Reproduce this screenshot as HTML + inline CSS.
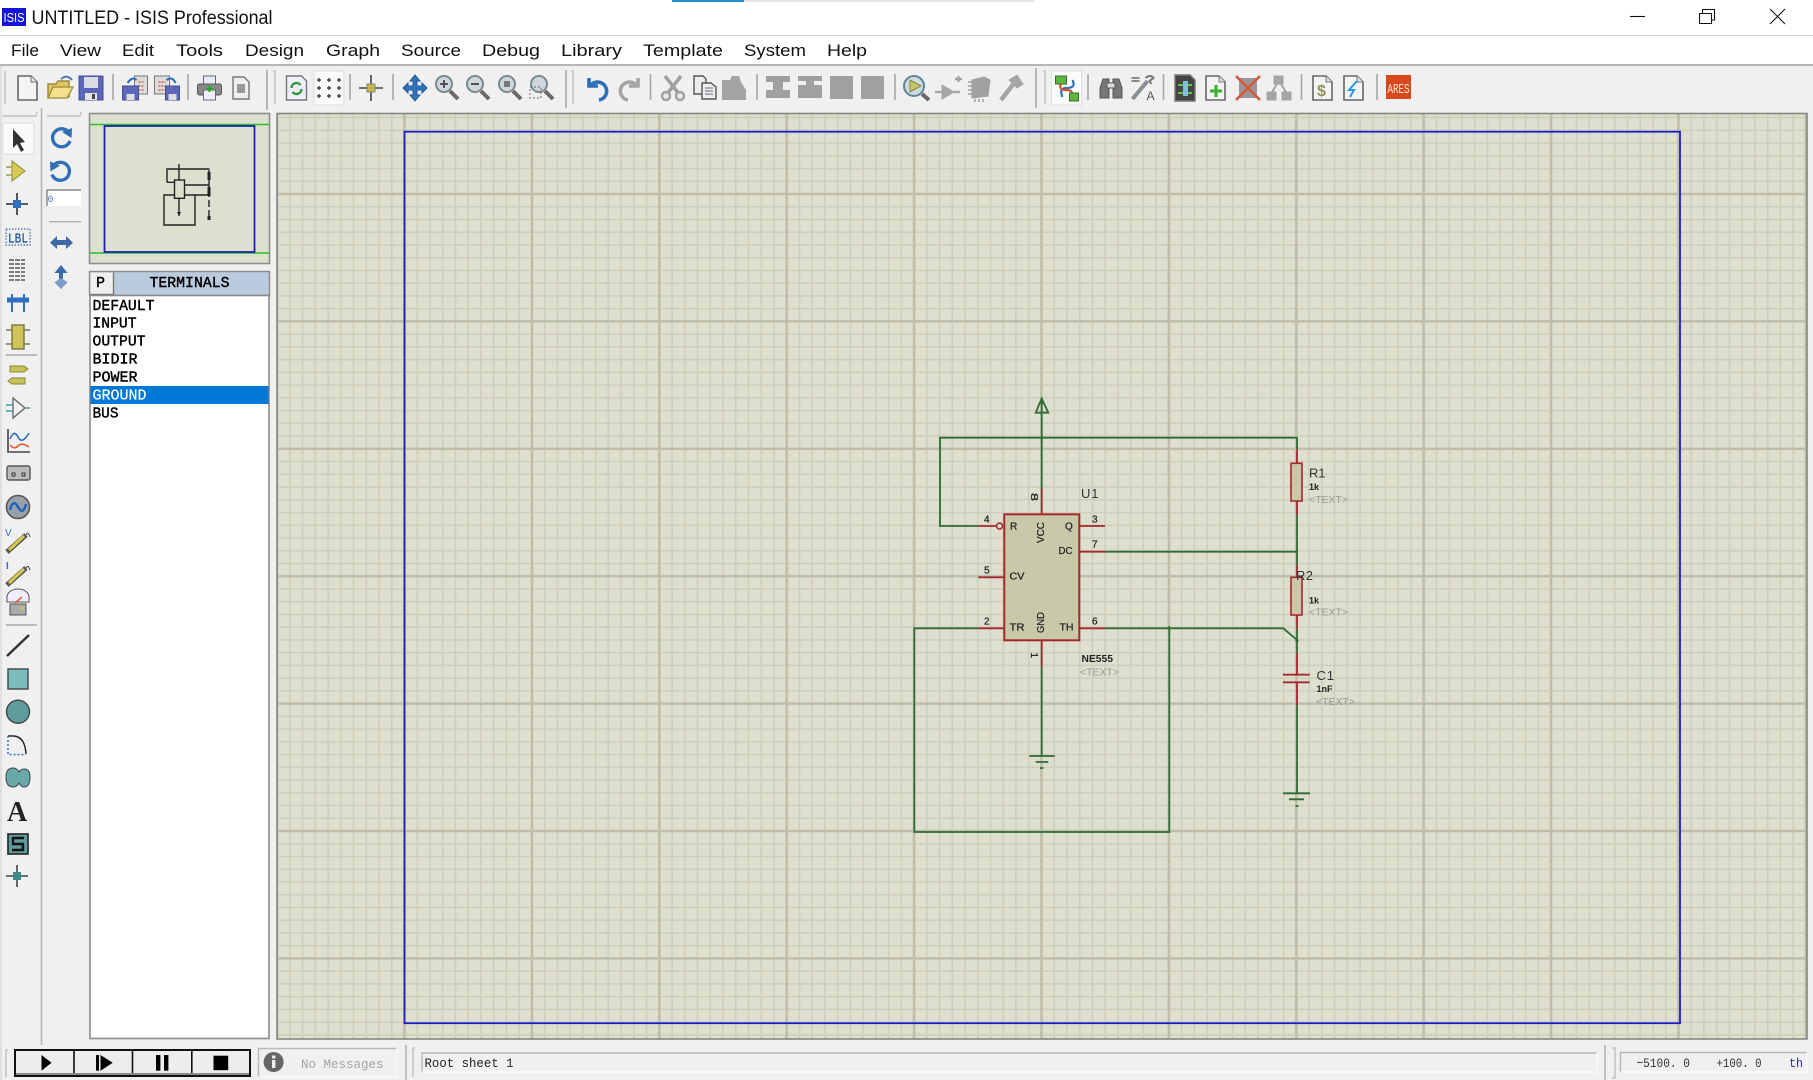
<!DOCTYPE html>
<html><head><meta charset="utf-8"><title>UNTITLED - ISIS Professional</title>
<style>
html,body{margin:0;padding:0;background:#f0f0f0;width:1813px;height:1080px;overflow:hidden}
svg{display:block;filter:blur(.35px)}
text{font-family:"Liberation Sans",sans-serif}
.m{font-family:"Liberation Mono",monospace}
.menu{font-size:17px;fill:#111}
.list{font-family:"Liberation Mono",monospace;font-size:15px;fill:#000;stroke:#000;stroke-width:.4}
.pin{font-family:"Liberation Mono",monospace;font-size:10px;fill:#222;stroke:#222;stroke-width:.25}
.grn{stroke:#2f6b35;stroke-width:1.8;fill:none}
.red{stroke:#a32a2a;stroke-width:1.8;fill:none}
.tag{font-size:10px;fill:#9a9a98}
.sep{stroke:#a8a8a8;stroke-width:1.6}
.grip{fill:none;stroke:#c0c0c0;stroke-width:1.4}
</style></head><body>
<svg width="1813" height="1080" viewBox="0 0 1813 1080" xmlns="http://www.w3.org/2000/svg">
<defs>
<pattern id="g" patternUnits="userSpaceOnUse" x="398.13" y="187.63" width="127.4" height="127.4">
<path d="M19.11 0V127.4M31.85 0V127.4M44.59 0V127.4M57.33 0V127.4M70.07 0V127.4M82.81 0V127.4M95.55 0V127.4M108.29 0V127.4M121.03 0V127.4M0 19.11H127.4M0 31.85H127.4M0 44.59H127.4M0 57.33H127.4M0 70.07H127.4M0 82.81H127.4M0 95.55H127.4M0 108.29H127.4M0 121.03H127.4" stroke="#cdcdba" stroke-width="1.6" fill="none"/>
<path d="M6.37 0V127.4M0 6.37H127.4" stroke="#bdbdaa" stroke-width="2.6" fill="none"/>
</pattern>
<g id="doc"><path d="M-9-12H4L10-6V12H-9Z" fill="#f4f4f4" stroke="#666" stroke-width="1.6"/><path d="M4-12V-6H10" fill="#ddd" stroke="#777"/></g>
<g id="mag"><circle cx="-3" cy="-4" r="8" fill="#cfd6dc" stroke="#7a8a92" stroke-width="2"/><path d="M3 3L11 11" stroke="#6a6a6a" stroke-width="4"/></g>
</defs>

<!-- title bar -->
<rect width="1813" height="35" fill="#fff"/>
<rect x="672" y="0" width="72" height="2" fill="#2a90cc"/><rect x="744" y="0" width="290" height="2" fill="#e4e4e4"/>
<rect x="2" y="8" width="24" height="18" fill="#1515d8"/>
<text x="3.5" y="22" font-size="13" fill="#fff" textLength="21" lengthAdjust="spacingAndGlyphs">ISIS</text>
<text x="31.5" y="24" font-size="19" fill="#111" textLength="241" lengthAdjust="spacingAndGlyphs">UNTITLED - ISIS Professional</text>
<path d="M1630 16.5H1645" stroke="#111" stroke-width="1.1"/>
<path d="M1699.5 13.5H1711.5V23.5H1699.5ZM1702.5 13V9.5H1714.5V20H1711.5" fill="none" stroke="#111" stroke-width="1.1"/>
<path d="M1770 9L1785 24M1785 9L1770 24" stroke="#111" stroke-width="1.1"/>
<rect y="35" width="1813" height="1" fill="#cfcfcf"/>

<!-- menu -->
<rect y="36" width="1813" height="29" fill="#fff"/>
<rect y="64" width="1813" height="2" fill="#b5b5b5"/>
<g class="menu">
<text x="11" y="56" textLength="28" lengthAdjust="spacingAndGlyphs">File</text>
<text x="60" y="56" textLength="41" lengthAdjust="spacingAndGlyphs">View</text>
<text x="122" y="56" textLength="32" lengthAdjust="spacingAndGlyphs">Edit</text>
<text x="176" y="56" textLength="47" lengthAdjust="spacingAndGlyphs">Tools</text>
<text x="245" y="56" textLength="59" lengthAdjust="spacingAndGlyphs">Design</text>
<text x="326" y="56" textLength="54" lengthAdjust="spacingAndGlyphs">Graph</text>
<text x="401" y="56" textLength="60" lengthAdjust="spacingAndGlyphs">Source</text>
<text x="482" y="56" textLength="58" lengthAdjust="spacingAndGlyphs">Debug</text>
<text x="561" y="56" textLength="61" lengthAdjust="spacingAndGlyphs">Library</text>
<text x="643" y="56" textLength="80" lengthAdjust="spacingAndGlyphs">Template</text>
<text x="744" y="56" textLength="62" lengthAdjust="spacingAndGlyphs">System</text>
<text x="827" y="56" textLength="40" lengthAdjust="spacingAndGlyphs">Help</text>
</g>

<!-- toolbar grips and separators -->
<g class="grip">
<path d="M5 71V104"/><path d="M273 71H275V104"/><path d="M571 71H573V104"/><path d="M1043 71H1045V104"/>
</g>
<g class="sep">
<path d="M113 74V100M188 74V100M267 70V110M350 74V100M393 74V100M566 70V108M650.5 74V100M757 74V100M895 74V100M1036 68V108M1088 74V100M1163.5 74V100M1301.5 74V100M1377 74V100"/>
</g>

<!-- toolbar icons -->
<use href="#doc" transform="translate(27,88)"/>
<g transform="translate(60,88)"><path d="M-12-4H-4L-2-7H9V9H-12Z" fill="#e2c563" stroke="#9a8a3c" stroke-width="1.4"/><path d="M-12 10L-7-1H13L7 10Z" fill="#f4e08a" stroke="#9a8a3c" stroke-width="1.3"/><path d="M1-9Q7-14 12-8" stroke="#4a7fb8" stroke-width="2" fill="none"/></g>
<g transform="translate(91,88)"><rect x="-12" y="-12" width="24" height="24" fill="#5d66b8" stroke="#444c98"/><rect x="-7" y="-11" width="14" height="11" fill="#d8dce4"/><rect x="-6" y="5" width="12" height="7" fill="#e4e4e4"/><rect x="1" y="6" width="3" height="5" fill="#444"/></g>
<g transform="translate(134.5,88)"><rect x="0" y="-12" width="13" height="18" fill="#dcdcdc" stroke="#777"/><path d="M4-6h6M4-2h6M4 2h6" stroke="#d06a50" stroke-width="1.6" stroke-dasharray="2 1"/><rect x="-12" y="-2" width="16" height="14" fill="#5d66b8" stroke="#444c98"/><rect x="-8" y="6" width="8" height="6" fill="#ddd"/><path d="M-7-5Q-2-12 2-8" stroke="#2a6cb8" stroke-width="2" fill="none"/></g>
<g transform="translate(166.5,88)"><rect x="-12" y="-12" width="15" height="18" fill="#dcdcdc" stroke="#777"/><path d="M-8-6h7M-8-2h7M-8 2h7" stroke="#d06a50" stroke-width="1.6" stroke-dasharray="2 1"/><rect x="-1" y="-2" width="14" height="14" fill="#5d66b8" stroke="#444c98"/><rect x="2" y="6" width="8" height="6" fill="#ddd"/><path d="M0-8Q6-12 9-5" stroke="#2a6cb8" stroke-width="2" fill="none"/></g>
<g transform="translate(209.5,88)"><rect x="-6" y="-12" width="12" height="8" fill="#e8eef4" stroke="#667"/><rect x="-12" y="-4" width="24" height="11" rx="2" fill="#888" stroke="#555"/><rect x="-6" y="2" width="12" height="10" fill="#eef" stroke="#667"/><path d="M-3 1H3M0-2V4" stroke="#1ba81b" stroke-width="2"/></g>
<g transform="translate(241,88)"><path d="M-8-11H3L8-6V11H-8Z" fill="#eee" stroke="#777" stroke-width="1.4"/><rect x="-4" y="-4" width="8" height="9" fill="#999"/></g>
<g transform="translate(296.5,88)"><path d="M-10-12H5L10-7V12H-10Z" fill="#eef" stroke="#777" stroke-width="1.4"/><path d="M-5 0A5 5 0 0 1 4-3M5 1A5 5 0 0 1-4 4" fill="none" stroke="#2e9a33" stroke-width="2.4"/></g>
<g transform="translate(329,88)"><rect x="-15" y="-17" width="30" height="34" fill="#fafafa" stroke="#ddd"/><path d="M-10-10V-6M-12-8H-8M0-10V-6M-2-8H2M10-10V-6M8-8H12M-10-2V2M-12 0H-8M0-2V2M-2 0H2M10-2V2M8 0H12M-10 6V10M-12 8H-8M0 6V10M-2 8H2M10 6V10M8 8H12" stroke="#333" stroke-width="1.3" fill="none"/></g>
<g transform="translate(371,88)"><path d="M0-13V13M-12 0H12" stroke="#444" stroke-width="1.6"/><rect x="-4" y="-4" width="8" height="8" fill="#c2b84c" stroke="#888"/></g>
<g transform="translate(415,88)"><path d="M0-13L5-7H2V-2H7V-5L12 0L7 5V2H2V7H5L0 13L-5 7H-2V2H-7V5L-12 0L-7-5V-2H-2V-7H-5Z" fill="#2f78be" stroke="#1f5a99"/></g>
<g transform="translate(447,88)"><use href="#mag"/><path d="M-7-4H1M-3-8V0" stroke="#444" stroke-width="1.8"/></g>
<g transform="translate(478,88)"><use href="#mag"/><path d="M-7-4H1" stroke="#444" stroke-width="1.8"/></g>
<g transform="translate(510,88)"><use href="#mag"/><rect x="-6" y="-7" width="6" height="6" fill="#777"/></g>
<g transform="translate(542,88)"><use href="#mag"/><rect x="-12" y="-1" width="11" height="11" fill="none" stroke="#666" stroke-dasharray="2 2"/></g>
<g transform="translate(597,88)"><path d="M-8-10V-2H1M-6-3A9 9 0 1 1 2 12" fill="none" stroke="#2f6fb8" stroke-width="3.6"/></g>
<g transform="translate(630,88)"><path d="M8-10V-2H-1M6-3A9 9 0 1 0-2 12" fill="none" stroke="#a4a4a4" stroke-width="3.6"/></g>
<g transform="translate(673,88)" fill="#a0a0a0" stroke="#a0a0a0"><path d="M-8-12L6 6M8-12L-6 6" stroke-width="3.5"/><circle cx="-7" cy="8" r="4" fill="#e8e8e8" stroke-width="2.5"/><circle cx="7" cy="8" r="4" fill="#e8e8e8" stroke-width="2.5"/></g>
<g transform="translate(705,88)"><path d="M-11-12H-2L1-9V6H-11Z" fill="#eee" stroke="#555" stroke-width="1.4"/><path d="M-3-5H6L11-1V11H-3Z" fill="#eee" stroke="#555" stroke-width="1.4"/><path d="M0 0H8M0 3H8M0 6H8" stroke="#667" stroke-width="1"/></g>
<g transform="translate(734,88)" fill="#a4a4a4"><path d="M-12-8H-4L-2-12H5L7-6L12 2V12H-12Z"/></g>
<g fill="#a0a0a0">
<path d="M766 76H790V82H783V90H790V98H766V90H773V82H766Z"/>
<path d="M798 76H822V81H814V85H822V98H798V85H806V81H798Z"/>
<rect x="830" y="76" width="23" height="23"/>
<rect x="861" y="76" width="23" height="23"/>
</g>
<g transform="translate(916,88)"><circle cx="-2" cy="-2" r="10" fill="#cfdbe0" stroke="#5f8698" stroke-width="2"/><path d="M-6-8L5-2L-6 4Z" fill="#c8c46a" stroke="#8a8a40"/><path d="M6 6L13 12" stroke="#666" stroke-width="4"/></g>
<g transform="translate(948,88)" fill="#a6a6a6" stroke="#a6a6a6"><path d="M-6-3L6 4L-6 11Z"/><path d="M-13 4H-6M6 4H12M7-9H14M10.5-12V-6" stroke-width="2.4"/></g>
<g transform="translate(980,88)" fill="#a0a0a0" stroke="#a0a0a0"><path d="M-8-8L4-11L10-8L8 8L-8 10Z"/><path d="M-12-6H-8M-12-2H-8M-12 2H-8M-12 6H-8M-5 11V14M-1 11V14M3 11V14" stroke-width="1.6"/></g>
<g transform="translate(1011,88)" fill="#a6a6a6" stroke="#a6a6a6"><path d="M-10 12L4-6" stroke-width="4.5"/><path d="M-2-8L6-13L12-4L6 0Z"/></g>
<g transform="translate(1066.5,88)"><rect x="-15" y="-17" width="30" height="34" fill="#fbfbfb" stroke="#ddd"/><path d="M6-8Q10 0 0 0Q-8 0-4 9" fill="none" stroke="#2f6fb8" stroke-width="2.2"/><path d="M-4-7Q-10 2 0 2Q8 2 4 9" fill="none" stroke="#d0562a" stroke-width="2.2"/><rect x="-11" y="-12" width="11" height="8" fill="#5cb83a" stroke="#3a6a30"/><rect x="3" y="5" width="9" height="8" fill="#5cb83a" stroke="#3a6a30"/></g>
<g transform="translate(1111,88)" fill="#777" stroke="#555"><path d="M-11 10V0L-8-9H-2V10ZM2 10V-9H8L11 0V10Z"/><rect x="-4" y="-5" width="8" height="5" fill="#ddd"/></g>
<g transform="translate(1142.5,88)"><path d="M-10 11L5-7" stroke="#8a8f98" stroke-width="4"/><path d="M3-10Q8-14 11-10L7-7L9-4" fill="none" stroke="#777" stroke-width="2"/><path d="M-11-10H-3M-11-7H-3" stroke="#666" stroke-width="1.4"/><text x="4" y="12" font-size="12" fill="#555">A</text></g>
<g transform="translate(1185,88)"><path d="M-10-13H5L10-8V13H-10Z" fill="#444" stroke="#777" stroke-width="1.4"/><path d="M-7-3H7M-7 5H7" stroke="#5fcc40" stroke-width="2"/><rect x="-2" y="-7" width="5" height="15" fill="#7fc0d8"/></g>
<g transform="translate(1215,88)"><use href="#doc"/><path d="M-5 3H7M1-3V9" stroke="#3ab030" stroke-width="3"/></g>
<g transform="translate(1248,88)"><rect x="-9" y="-10" width="18" height="20" fill="#999"/><path d="M-12-12L12 12M12-12L-12 12" stroke="#d8583c" stroke-width="2.6"/></g>
<g transform="translate(1279,88)" fill="#a4a4a4" stroke="#a4a4a4"><rect x="-5" y="-12" width="9" height="8"/><rect x="-12" y="4" width="9" height="8"/><rect x="3" y="4" width="9" height="8"/><path d="M-7 4L-2-4M7 4L2-4" stroke-width="2" fill="none"/></g>
<g transform="translate(1322,88)"><use href="#doc"/><text x="-5" y="8" font-size="16" fill="#8f9060" font-weight="bold">$</text></g>
<g transform="translate(1353,88)"><use href="#doc"/><path d="M4-7L-4 2H1L-3 9" fill="none" stroke="#2a9ae0" stroke-width="2"/></g>
<rect x="1386" y="75" width="25" height="24" fill="#d9471d"/>
<text x="1387.5" y="93" font-size="14" fill="#ffe8d8" textLength="22" lengthAdjust="spacingAndGlyphs" class="m">ARES</text>

<!-- left column dividers -->
<path d="M41.5 108V1045" stroke="#b4b4b4" stroke-width="1.6"/>
<path d="M3 116H36L37 112M47 116H80L81 112" class="grip"/>
<path d="M1 66V1080" stroke="#d0d0d0" stroke-width="1"/>

<!-- left tools -->
<rect x="3" y="123" width="31" height="31" fill="#fafafa" stroke="#ddd"/>
<path d="M13 129L13 148L17 144L21 152L24 150L20 143L25 142Z" fill="#333"/>
<g transform="translate(17,171)"><path d="M-5-10L8 0L-5 10Z" fill="#d6ca50" stroke="#a09a50" stroke-width="1.2"/><path d="M-11-4H-5M-11 4H-5" stroke="#a09a50" stroke-width="1.6"/></g>
<g transform="translate(17,204)"><path d="M0-11V11M-11 0H11" stroke="#444" stroke-width="1.8"/><rect x="-4" y="-4" width="8" height="8" fill="#2f6fc0"/></g>
<rect x="6" y="229" width="24" height="16" fill="none" stroke="#5a7fb0" stroke-width="1.4" stroke-dasharray="1.5 1.5"/>
<text x="8" y="242.5" font-size="14" fill="#1f5aa8" stroke="#1f5aa8" stroke-width=".3" class="m" textLength="20" lengthAdjust="spacingAndGlyphs">LBL</text>
<path d="M9 260H25M9 264H25M9 268H25M9 272H25M9 276H25M9 280H25" stroke="#555" stroke-width="1.6" stroke-dasharray="5 1"/>
<g transform="translate(18,303)"><path d="M-11-3H11" stroke="#2f6fc0" stroke-width="5"/><path d="M-6-9V9M6-9V9" stroke="#2f6fc0" stroke-width="2"/></g>
<g transform="translate(18,337)"><rect x="-6" y="-12" width="12" height="24" fill="#cfc35a" stroke="#77773a" stroke-width="1.4"/><path d="M-12-7H-6M-12 7H-6M6-7H12M6 7H12" stroke="#7a7a4a" stroke-width="1.6"/></g>
<path d="M6 355H37" stroke="#a8a8a8" stroke-width="1.4"/>
<path d="M10 366H24L28 369L24 372H10Z" fill="#c8c058" stroke="#88883a"/>
<path d="M12 378H25V384H12L8 381Z" fill="#c8c058" stroke="#88883a"/>
<g transform="translate(18,408)"><path d="M-5-10L7 0L-5 10Z" fill="none" stroke="#666" stroke-width="1.4"/><path d="M-12-3H-6M-12 3H-6M8 0H12" stroke="#35a0a0" stroke-width="1.6"/></g>
<g transform="translate(18,441)"><path d="M-10-12V11H12" stroke="#444" stroke-width="1.6" fill="none"/><path d="M-8-2Q-4-12 0-4T11-8" fill="none" stroke="#2f6fc0" stroke-width="1.6"/><path d="M-8 4Q-4 9 0 5T11 6" fill="none" stroke="#e0603a" stroke-width="1.6"/></g>
<rect x="7" y="466" width="23" height="14" rx="2" fill="#bbb" stroke="#555" stroke-width="1.4"/>
<path d="M12 473h3v3h-3zM22 473h3v3h-3z" fill="none" stroke="#333"/>
<circle cx="18" cy="507" r="11.5" fill="#9aa0a8" stroke="#555" stroke-width="1.6"/>
<path d="M10 510Q13 498 18 507T26 504" fill="none" stroke="#1f5fc0" stroke-width="2.4"/>
<g transform="translate(18,541)"><path d="M-11 11L8-6" stroke="#555" stroke-width="5"/><path d="M-9 9L6-5" stroke="#d6ca50" stroke-width="3"/><path d="M8-6Q10-10 12-4" fill="none" stroke="#444"/><text x="-13" y="-5" font-size="10" fill="#2f6fc0">V</text></g>
<g transform="translate(18,574)"><path d="M-11 11L8-6" stroke="#555" stroke-width="5"/><path d="M-9 9L6-5" stroke="#d6ca50" stroke-width="3"/><path d="M8-6Q10-10 12-4" fill="none" stroke="#444"/><text x="-12" y="-5" font-size="10" fill="#2f6fc0" font-weight="bold">I</text></g>
<g transform="translate(18,606)"><path d="M-11-9A11 8 0 0 1 11-9V-4H-11Z" fill="#eef" stroke="#555"/><path d="M-3-3L4-9" stroke="#e0603a" stroke-width="1.6"/><rect x="-8" y="-2" width="16" height="11" fill="#aaa" stroke="#555"/><circle cx="4" cy="2" r="1.5" fill="#d8cc40"/></g>
<path d="M6 625H37" stroke="#a8a8a8" stroke-width="1.4"/>
<path d="M7 656L29 635" stroke="#333" stroke-width="2.4"/>
<rect x="8" y="669" width="20" height="20" fill="#7cbcbc" stroke="#444" stroke-width="1.4"/>
<circle cx="18" cy="711.7" r="11.5" fill="#5f9c9c" stroke="#444" stroke-width="1.4"/>
<path d="M8 736H14Q25 737 26 754" fill="none" stroke="#222" stroke-width="1.4"/>
<path d="M8 736V754.5H26" fill="none" stroke="#2f6fd0" stroke-width="1.4" stroke-dasharray="2 2"/>
<path d="M6 777Q6 768 13 768Q17 768 19 772Q21 769 24 769Q30 769 30 777Q30 787 24 787Q21 787 19 783Q17 787 13 787Q6 787 6 777Z" fill="#68a8a8" stroke="#444"/>
<text x="7" y="821" font-size="28" font-weight="bold" fill="#222" style="font-family:'Liberation Serif',serif">A</text>
<rect x="8" y="834" width="20" height="20" fill="#5f9c9c" stroke="#222" stroke-width="1.6"/>
<path d="M24 838H13V844H23V850H12" fill="none" stroke="#111" stroke-width="2.4"/>
<g transform="translate(17,876)"><path d="M0-11V11M-11 0H11" stroke="#444" stroke-width="1.6"/><rect x="-4" y="-4" width="8" height="8" fill="#3a8a8a"/></g>

<!-- second column -->
<path d="M68 131.5A9 9 0 1 0 70 141" fill="none" stroke="#2f6fb8" stroke-width="3.4"/><path d="M62 132L72 128L71.5 138Z" fill="#2f6fb8"/>
<path d="M54 165A9 9 0 1 1 52 174.5" fill="none" stroke="#2f6fb8" stroke-width="3.4"/><path d="M60 165.5L50 161.5L50.5 171.5Z" fill="#2f6fb8"/>
<rect x="47" y="190" width="34" height="16" fill="#fff"/><path d="M47 206V190H81" fill="none" stroke="#555"/>
<text x="47.5" y="202" font-size="10" fill="#5577aa" class="m">0</text>
<path d="M49 221.7H81" stroke="#b0b0b0" stroke-width="1.4"/>
<path d="M50 242.7L57 236V240H66V236L73 242.7L66 249V245H57V249Z" fill="#3e68a8"/>
<path d="M61 265L67.5 273H63V282H67.5L61 289L54.5 282H59V273H54.5Z" fill="#3e68a8"/><path d="M61 278L67 282L61 289L55 282Z" fill="#7d9cc8"/>

<!-- preview -->
<rect x="89.5" y="113.5" width="180" height="150" fill="#dfdfcf" stroke="#8e8e8e" stroke-width="1.6"/>
<path d="M90 124.5H269M90 253H269" stroke="#22c422" stroke-width="1.6"/>
<rect x="104.5" y="126" width="150" height="126" fill="none" stroke="#2020b8" stroke-width="1.8"/>
<g fill="none" stroke="#222" stroke-width="1.4">
<path d="M179 164V180M167 182.3V169H209.5M167 182.3H174"/>
<rect x="174.5" y="180" width="10" height="18.3"/>
<path d="M184 185H209M184 195H209M174 195H164V225H195V195M179 198V216"/>
<path d="M209 170V220" stroke-dasharray="7 3"/>
</g>
<path d="M209 172V180M209 187V196M209 216V220" stroke="#222" stroke-width="3"/>
<path d="M177 212H181L179 216Z" fill="#222"/>

<!-- terminals header -->
<rect x="89.5" y="271.5" width="180" height="24" fill="#b9cbdc" stroke="#8a8a8a" stroke-width="1.4"/>
<rect x="90.5" y="272.5" width="23" height="22" fill="#efefef"/>
<path d="M113.5 272.5V294.5H90.5" fill="none" stroke="#777" stroke-width="1.4"/>
<text class="list" x="96" y="287">P</text>
<text class="list" x="149.5" y="287" textLength="80" lengthAdjust="spacingAndGlyphs">TERMINALS</text>

<!-- list -->
<rect x="90" y="295.5" width="179" height="743" fill="#fff" stroke="#8a8a8a" stroke-width="1.6"/>
<rect x="90.5" y="386" width="178" height="18" fill="#0078d7"/>
<text class="list" x="92.5" y="310" textLength="62" lengthAdjust="spacingAndGlyphs">DEFAULT</text>
<text class="list" x="92.5" y="327.5" textLength="44" lengthAdjust="spacingAndGlyphs">INPUT</text>
<text class="list" x="92.5" y="345.5" textLength="53" lengthAdjust="spacingAndGlyphs">OUTPUT</text>
<text class="list" x="92.5" y="363.5" textLength="45" lengthAdjust="spacingAndGlyphs">BIDIR</text>
<text class="list" x="92.5" y="381.5" textLength="45" lengthAdjust="spacingAndGlyphs">POWER</text>
<text class="list" x="92.5" y="399.5" textLength="54" lengthAdjust="spacingAndGlyphs" style="fill:#fff;stroke:#fff;stroke-width:.2">GROUND</text>
<text class="list" x="92.5" y="417.5" textLength="26" lengthAdjust="spacingAndGlyphs">BUS</text>

<!-- canvas -->
<rect x="277" y="113.5" width="1530" height="925.5" fill="#dfdfcf"/>
<rect x="277" y="113.5" width="1530" height="925.5" fill="url(#g)"/>
<rect x="277" y="113.5" width="1530" height="925.5" fill="none" stroke="#858585" stroke-width="1.6"/>
<rect x="404.5" y="131.7" width="1275.5" height="891.5" fill="none" stroke="#1c1ccc" stroke-width="1.8"/>

<!-- circuit -->
<rect x="1004.3" y="514.3" width="75" height="126" fill="#c9c9aa" stroke="#a32a2a" stroke-width="2"/>
<g class="grn">
<path d="M1041.7 488.3V402"/>
<path d="M1041.7 398.5L1048.3 412.7H1035.7Z"/>
<path d="M978.3 526H940V437.7H1297V449.3"/>
<path d="M1105 551.7H1298"/>
<path d="M978.3 628.3H914.3V832H1169.3V626"/>
<path d="M1105 628.3H1283.3L1297 640"/>
<path d="M1041.7 666.7V756M1029.3 756H1054.7M1035.7 762H1048.3M1040 768H1043.4"/>
<path d="M1297 515V565M1297 629.3V653M1297 705V793.3M1283 793.3H1310M1289 799.3H1304M1295.5 806H1298.5"/>
</g>
<circle cx="1041.7" cy="401.7" r="1.8" fill="#2f6b35"/>
<circle cx="1297" cy="640.5" r="1.6" fill="#2f6b35"/>
<g class="red">
<path d="M978.3 526H996M1079.3 526H1105M1079.3 551.7H1105M978.3 577.3H1004.3M978.3 628.3H1004.3M1079.3 628.3H1105M1041.7 488.3V514.3M1041.7 640.3V666.7"/>
<circle cx="999.5" cy="526" r="3" stroke-width="1.5"/>
<path d="M1297 449.3V463.3M1297 501V515M1297 565V577.3M1297 615V629.3M1297 653V674.7M1283 674.7H1309.7M1283 682.3H1309.7M1297 682.3V705"/>
<rect x="1291" y="463.3" width="11" height="37.7" fill="#c9c9aa" stroke-width="1.6"/>
<rect x="1291" y="577.3" width="11" height="37.7" fill="#c9c9aa" stroke-width="1.6"/>
</g>

<!-- pin numbers -->
<g class="pin">
<text x="984" y="522.5">4</text><text x="1092" y="522.5">3</text><text x="1092" y="547.5">7</text>
<text x="984" y="573.5">5</text><text x="984" y="624.5">2</text><text x="1092" y="624.5">6</text>
<text transform="translate(1031,493) rotate(90)" textLength="8" lengthAdjust="spacingAndGlyphs">8</text>
<text transform="translate(1031,652.5) rotate(90)">1</text>
<text x="1010" y="529.5">R</text><text x="1065" y="529.5">Q</text>
<text x="1058.5" y="554" textLength="14" lengthAdjust="spacingAndGlyphs">DC</text>
<text x="1009.5" y="579.5" textLength="15" lengthAdjust="spacingAndGlyphs">CV</text>
<text x="1009.5" y="630.5" textLength="15" lengthAdjust="spacingAndGlyphs">TR</text>
<text x="1059.5" y="630.5" textLength="14" lengthAdjust="spacingAndGlyphs">TH</text>
<text transform="translate(1044,543) rotate(-90)" textLength="21" lengthAdjust="spacingAndGlyphs">VCC</text>
<text transform="translate(1044,633) rotate(-90)" textLength="21" lengthAdjust="spacingAndGlyphs">GND</text>
</g>

<!-- labels -->
<text x="1081" y="498" font-size="13" fill="#333" textLength="17.5" lengthAdjust="spacing">U1</text>
<text x="1081.5" y="662" font-size="10" font-weight="bold" fill="#222" textLength="31.5" lengthAdjust="spacingAndGlyphs">NE555</text>
<text class="tag" x="1080" y="675.5" textLength="39" lengthAdjust="spacingAndGlyphs">&lt;TEXT&gt;</text>
<text x="1309" y="477.5" font-size="13" fill="#333" textLength="16.5" lengthAdjust="spacing">R1</text>
<text x="1309" y="490" font-size="9" font-weight="bold" fill="#222">1k</text>
<text class="tag" x="1309" y="503" textLength="39" lengthAdjust="spacingAndGlyphs">&lt;TEXT&gt;</text>
<text x="1296" y="580" font-size="13" fill="#333" textLength="17" lengthAdjust="spacing">R2</text>
<text x="1309" y="603.5" font-size="9" font-weight="bold" fill="#222">1k</text>
<text class="tag" x="1309" y="615.5" textLength="39" lengthAdjust="spacingAndGlyphs">&lt;TEXT&gt;</text>
<text x="1316.5" y="680" font-size="13" fill="#333" textLength="17.5" lengthAdjust="spacing">C1</text>
<text x="1316.5" y="692" font-size="9" font-weight="bold" fill="#222">1nF</text>
<text class="tag" x="1316" y="705" textLength="39" lengthAdjust="spacingAndGlyphs">&lt;TEXT&gt;</text>

<!-- status bar -->
<path d="M8 1050H6V1077" class="grip"/>
<rect x="15" y="1050" width="235" height="26" fill="#ededed" stroke="#111" stroke-width="2"/>
<path d="M74 1050V1076M132.5 1050V1076M191.8 1050V1076" stroke="#111" stroke-width="1.6"/>
<path d="M16 1074H249" stroke="#8a8a8a" stroke-width="2"/>
<path d="M41.5 1055V1070.7L51.5 1062.8Z" fill="#000"/>
<rect x="96" y="1055" width="3" height="15.7" fill="#000"/><path d="M100.5 1055V1070.7L112.7 1062.8Z" fill="#000"/>
<rect x="156" y="1055" width="4.4" height="15.7" fill="#000"/><rect x="164" y="1055" width="4.4" height="15.7" fill="#000"/>
<rect x="213.5" y="1055.7" width="14.7" height="14.5" fill="#000"/>
<path d="M258.5 1077V1048.5H396.5" fill="none" stroke="#b8b8b8" stroke-width="1.4"/><path d="M396.5 1048.5V1077H258.5" fill="none" stroke="#fafafa" stroke-width="1.4"/>
<circle cx="273.6" cy="1062" r="10" fill="#666"/><rect x="272" y="1060" width="3.4" height="8" fill="#eee"/><rect x="272" y="1055.5" width="3.4" height="3" fill="#eee"/>
<text class="m" x="301" y="1068" font-size="13" fill="#a4a4a4" textLength="82.5" lengthAdjust="spacingAndGlyphs">No Messages</text>
<path d="M406 1045V1080" stroke="#b4b4b4" stroke-width="1.6"/>
<path d="M415 1048H413V1077" class="grip"/>
<path d="M422 1072V1053H1597" fill="none" stroke="#b8b8b8" stroke-width="1.4"/><path d="M1597 1053V1072H422" fill="none" stroke="#fafafa" stroke-width="1.4"/>
<text class="m" x="424.5" y="1067" font-size="13" fill="#222" textLength="89" lengthAdjust="spacingAndGlyphs">Root sheet 1</text>
<path d="M1605 1045V1080" stroke="#b4b4b4" stroke-width="1.6"/>
<path d="M1612 1078H1615V1048H1612" class="grip"/>
<path d="M1620.5 1072V1052.5H1807" fill="none" stroke="#b8b8b8" stroke-width="1.4"/><path d="M1807 1052.5V1072H1620.5" fill="none" stroke="#fafafa" stroke-width="1.4"/>
<text class="m" x="1636.5" y="1067" font-size="13" fill="#333" textLength="53.5" lengthAdjust="spacingAndGlyphs">−5100. 0</text>
<text class="m" x="1716.5" y="1067" font-size="13" fill="#333" textLength="45" lengthAdjust="spacingAndGlyphs">+100. 0</text>
<text class="m" x="1789" y="1067" font-size="13" fill="#2a2a9a" textLength="14" lengthAdjust="spacingAndGlyphs">th</text>
</svg>
</body></html>
